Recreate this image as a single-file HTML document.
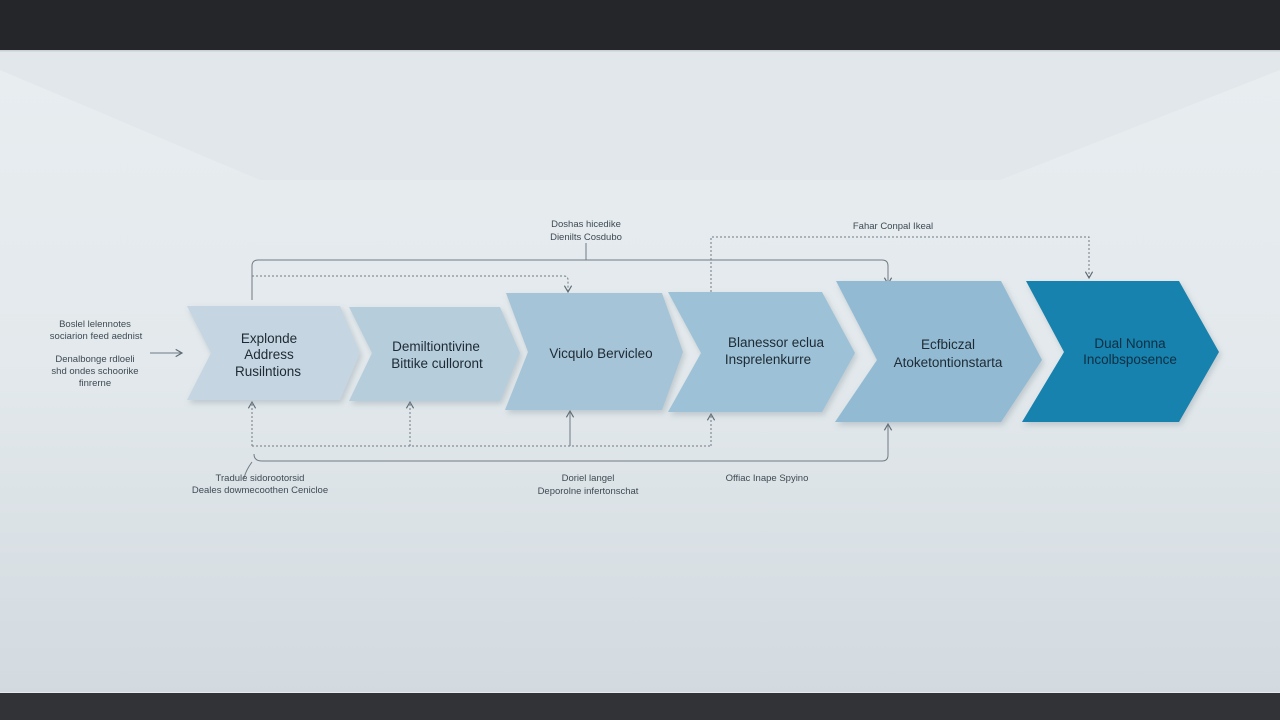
<!DOCTYPE html>
<html><head><meta charset="utf-8"><style>
html,body{margin:0;padding:0;width:1280px;height:720px;overflow:hidden;background:#dfe5e9}
svg{display:block}
text{font-family:"Liberation Sans",sans-serif}
</style></head><body>
<svg width="1280" height="720" viewBox="0 0 1280 720" xmlns="http://www.w3.org/2000/svg">
<defs>
<linearGradient id="wall" x1="0" y1="0" x2="0" y2="1">
<stop offset="0" stop-color="#e9eef1"/><stop offset="0.5" stop-color="#e3e9ec"/><stop offset="1" stop-color="#d1d9df"/>
</linearGradient>
<filter id="sh" x="-10%" y="-10%" width="130%" height="130%"><feDropShadow dx="2" dy="3" stdDeviation="3" flood-color="#7a8a96" flood-opacity="0.35"/></filter>
<marker id="ah" viewBox="0 0 10 10" refX="8" refY="5" markerWidth="9" markerHeight="9" markerUnits="userSpaceOnUse" orient="auto"><path d="M1,1 L8,5 L1,9" fill="none" stroke="#5f6b74" stroke-width="1.3"/></marker>
</defs>
<rect x="0" y="0" width="1280" height="720" fill="url(#wall)"/>
<polygon points="0,50 1280,50 1280,70 1000,180 260,180 0,70" fill="#e1e7ea"/>
<rect x="0" y="0" width="1280" height="50" fill="#24262a"/>
<rect x="0" y="50" width="1280" height="1.5" fill="#c9d0d5"/>
<rect x="0" y="692" width="1280" height="1.5" fill="#e4eaee"/>
<rect x="0" y="693" width="1280" height="27" fill="#313336"/>

<g fill="none" stroke="#6f7b84" stroke-width="1">
<path d="M252,300 V266 Q252,260 258,260 H882 Q888,260 888,266 V284" marker-end="url(#ah)"/>
<path d="M252,276 H564 Q568,276 568,280 V292" stroke-dasharray="2,2" marker-end="url(#ah)"/>
<path d="M711,292 V237 H1089 V278" stroke-dasharray="2,2" marker-end="url(#ah)"/>
<path d="M586,243 V260"/>
<path d="M252,446 H711" stroke-dasharray="2,2"/>
<path d="M252,446 V402" stroke-dasharray="2,2" marker-end="url(#ah)"/>
<path d="M410,446 V402" stroke-dasharray="2,2" marker-end="url(#ah)"/>
<path d="M570,446 V411" marker-end="url(#ah)"/>
<path d="M711,446 V414" stroke-dasharray="2,2" marker-end="url(#ah)"/>
<path d="M254,454 Q254,461 262,461 H882 Q888,461 888,455 V424" marker-end="url(#ah)"/>
<path d="M150,353 H182" marker-end="url(#ah)"/>
<path d="M252,462 Q246,470 244,478"/>
</g>

<g filter="url(#sh)">
<polygon points="187,306 340,306 360,353 340,400 187,400 211,353" fill="#c5d5e1"/>
<polygon points="349,307 500,307 520,353 500,401 349,401 372,353" fill="#b6cddc"/>
<polygon points="506,293 662,293 683,352 662,410 505,410 528,352" fill="#a6c4d7"/>
<polygon points="668,292 822,292 855,353 822,412 668,412 701,353" fill="#9dc1d6"/>
<polygon points="836,281 1001,281 1042,360 1001,422 835,422 877,360" fill="#92bbd3"/>
<polygon points="1026,281 1179,281 1219,352 1179,422 1022,422 1064,352" fill="#1682ad"/>
</g>

<g fill="#1e2a33" font-size="13.5" text-anchor="middle">
<text x="269" y="343">Explonde</text>
<text x="269" y="359">Address</text>
<text x="268" y="376">Rusilntions</text>
<text x="436" y="351">Demiltiontivine</text>
<text x="437" y="368">Bittike culloront</text>
<text x="601" y="358">Vicqulo Bervicleo</text>
<text x="776" y="347">Blanessor eclua</text>
<text x="768" y="364">Insprelenkurre</text>
<text x="948" y="349">Ecfbiczal</text>
<text x="948" y="367">Atoketontionstarta</text>
<text x="1130" y="348" fill="#0f2f44">Dual Nonna</text>
<text x="1130" y="364" fill="#0f2f44">Incolbsposence</text>
</g>

<g fill="#3e4a53" font-size="9.5" text-anchor="middle">
<text x="95" y="327">Boslel lelennotes</text>
<text x="96" y="339">sociarion feed aednist</text>
<text x="95" y="362">Denalbonge rdloeli</text>
<text x="95" y="374">shd ondes schoorike</text>
<text x="95" y="386">finrerne</text>
<text x="586" y="227">Doshas hicedike</text>
<text x="586" y="240">Dienilts Cosdubo</text>
<text x="893" y="229">Fahar Conpal Ikeal</text>
<text x="260" y="481">Tradule sidorootorsid</text>
<text x="260" y="493">Deales dowmecoothen Cenicloe</text>
<text x="588" y="481">Doriel langel</text>
<text x="588" y="494">Deporolne infertonschat</text>
<text x="767" y="481">Offiac Inape Spyino</text>
</g>
</svg>
</body></html>
